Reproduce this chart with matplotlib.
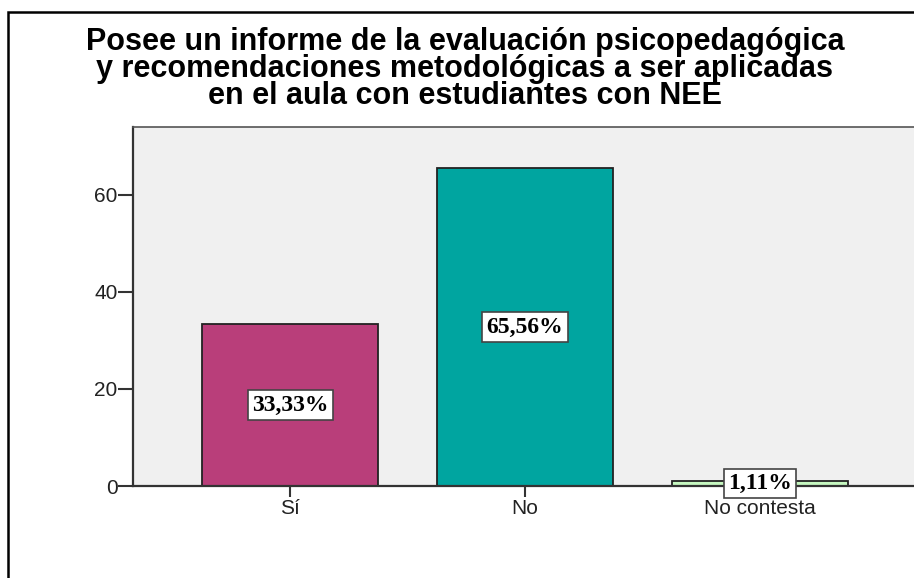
import matplotlib
matplotlib.use('Agg')
import matplotlib.pyplot as plt
from matplotlib.patches import Rectangle

categorias = ['Sí', 'No', 'No contesta']
porcentajes = [33.33, 65.56, 1.11]
colores = ['#B93E7A', '#00A5A0', '#C6F7C0']
titulo = ('Posee un informe de la evaluación psicopedagógica\n'
          'y recomendaciones metodológicas a ser aplicadas\n'
          'en el aula con estudiantes con NEE')

plt.rcParams['font.family'] = ['Liberation Sans', 'DejaVu Sans']

fig = plt.figure(figsize=(9.14, 5.78), dpi=100)
ax = fig.add_axes([133/914, 1-486/578, 784/914, 359/578])
ax.set_facecolor('#F0F0F0')

x = range(len(categorias))
barras = ax.bar(x, porcentajes, width=0.75, color=colores,
                edgecolor='#222222', linewidth=1.3, zorder=2)

# etiquetas de porcentaje en el centro de cada barra
for b, v in zip(barras, porcentajes):
    ax.text(b.get_x() + b.get_width()/2, v/2,
            f'{v:.2f}%'.replace('.', ','),
            ha='center', va='center', fontsize=17, fontweight='bold',
            family='Liberation Serif', zorder=3,
            bbox=dict(boxstyle='square,pad=0.18', fc='white', ec='#444444', lw=1.2))

ax.set_xlim(-0.67, 2.67)
ax.set_ylim(0, 74)
ax.set_yticks([0, 20, 40, 60])
ax.set_xticks(list(x))
ax.set_xticklabels(categorias)
ax.tick_params(axis='both', direction='out', width=1.5,
               color='#333333', labelsize=15, labelcolor='#222222')
ax.tick_params(axis='y', length=11, pad=0)
ax.tick_params(axis='x', length=8, pad=1)
for s in ['left', 'bottom']:
    ax.spines[s].set_linewidth(1.6)
    ax.spines[s].set_color('#333333')
ax.spines['top'].set_linewidth(1.2)
ax.spines['top'].set_color('#555555')
ax.spines['right'].set_visible(False)

fig.text(465/914, 1-27/578, titulo, ha='center', va='top', fontsize=22,
         fontweight='bold', linespacing=0.86)

# marco exterior
fig.patches.append(Rectangle((8/914, -0.05), 1.0, 1-12/578+0.05,
                             transform=fig.transFigure, fill=False,
                             ec='black', lw=1.8))

fig.savefig('out.png', dpi=100)
